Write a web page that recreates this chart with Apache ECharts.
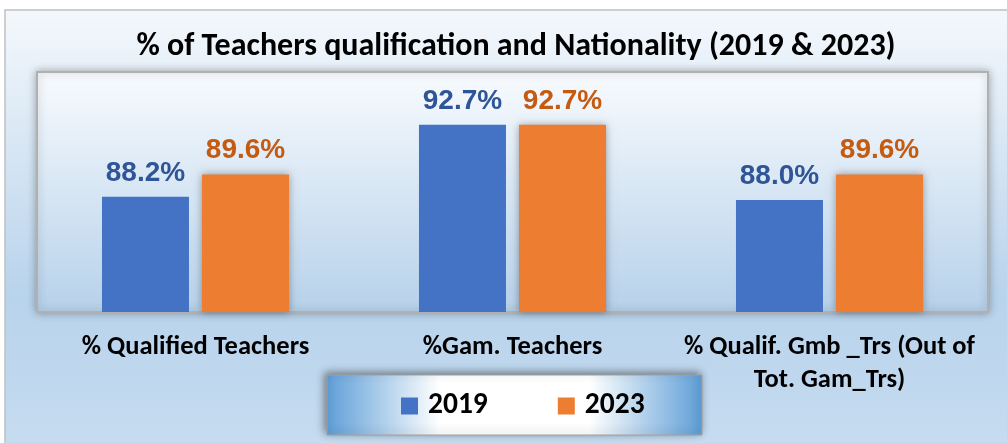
<!DOCTYPE html>
<html>
<head>
<meta charset="utf-8">
<script src="https://cdn.jsdelivr.net/npm/echarts@6/dist/echarts.min.js"></script>
<style>
	* { margin: 0; padding: 0; }
	body { background: #fff; }
	#main { width: 1007px; height: 443px; }
</style>
</head>
<body>
<div id="main"></div>
<script>
var categories = ['% Qualified Teachers', '%Gam. Teachers', '% Qualif. Gmb _Trs (Out of\nTot. Gam_Trs)']
var years = ['2019', '2023']
var values2019 = [88.2, 92.7, 88.0]
var values2023 = [89.6, 92.7, 89.6]

var calibri = 'Carlito, "Open Sans", Lato, sans-serif'

var chart = echarts.init(document.getElementById('main'))
chart.setOption({
	title: {
		left: 511,
		textAlign: 'center',
		top: 26,
		text: '% of Teachers qualification and Nationality (2019 & 2023)',
		textStyle: { fontFamily: calibri, fontWeight: 'bold', fontSize: 32, color: '#000' }
	},
	graphic: [
		{
			// outer chart frame
			type: 'rect', z: -10,
			shape: { x: 5, y: 10, width: 1010, height: 440 },
			style: {
				fill: { type: 'linear', x: 0, y: 0, x2: 0, y2: 1, colorStops: [
					{ offset: 0, color: '#f4f8fc' }, { offset: 0.65, color: '#b8d3ec' }, { offset: 1, color: '#c6dcf0' }] },
				stroke: '#c0c0c0', lineWidth: 1.5
			}
		},
		{
			// legend box
			type: 'rect', z: 1,
			shape: { x: 327, y: 375, width: 375, height: 60 },
			style: {
				fill: { type: 'linear', x: 0, y: 0, x2: 1, y2: 0, colorStops: [
					{ offset: 0, color: '#5f9fd8' }, { offset: 0.3, color: '#ffffff' },
					{ offset: 0.7, color: '#ffffff' }, { offset: 1, color: '#5f9fd8' }] },
				stroke: '#a0a0a0', lineWidth: 1,
				shadowBlur: 8, shadowColor: 'rgba(0,0,0,0.45)', shadowOffsetX: -2, shadowOffsetY: -2
			}
		}
	],
	legend: {
		left: 396,
		top: 386,
		icon: 'rect',
		itemWidth: 17,
		itemHeight: 17,
		itemGap: 70,
		z: 5,
		textStyle: { fontFamily: calibri, fontWeight: 'bold', fontSize: 29.5, color: '#000', padding: [0, 0, 0, 5] },
		data: years
	},
	grid: {
		show: true,
		left: 37,
		right: 19,
		top: 72,
		bottom: 131,
		backgroundColor: { type: 'linear', x: 0, y: 0, x2: 0, y2: 1, colorStops: [
			{ offset: 0, color: '#f8fbfe' }, { offset: 1, color: '#b6d1ea' }] },
		borderColor: '#b0b0b0',
		borderWidth: 2,
		shadowBlur: 8,
		shadowColor: 'rgba(0,0,0,0.3)'
	},
	xAxis: {
		type: 'category',
		data: categories,
		axisLine: { show: false },
		axisTick: { show: false },
		axisLabel: {
			margin: 19,
			interval: 0,
			fontFamily: calibri, fontWeight: 'bold', fontSize: 26.5, color: '#000', lineHeight: 33
		}
	},
	yAxis: {
		type: 'value',
		min: 81,
		max: 96,
		show: false
	},
	series: [
		{
			name: years[0],
			type: 'bar',
			barWidth: 87,
			barGap: '15%',
			data: values2019,
			itemStyle: { color: '#4472c4' },
			label: {
				show: true, position: 'top', distance: 10,
				formatter: function (p) { return p.value.toFixed(1) + '%' },
				fontFamily: '"Liberation Sans", Arial, sans-serif', fontWeight: 'bold', fontSize: 28, color: '#2f5597'
			}
		},
		{
			name: years[1],
			type: 'bar',
			barWidth: 87,
			data: values2023,
			itemStyle: { color: '#ed7d31', shadowBlur: 8, shadowColor: 'rgba(0,0,0,0.35)' },
			label: {
				show: true, position: 'top', distance: 10,
				formatter: function (p) { return p.value.toFixed(1) + '%' },
				fontFamily: '"Liberation Sans", Arial, sans-serif', fontWeight: 'bold', fontSize: 28, color: '#c55a11'
			}
		}
	]
})
</script>
</body>
</html>
